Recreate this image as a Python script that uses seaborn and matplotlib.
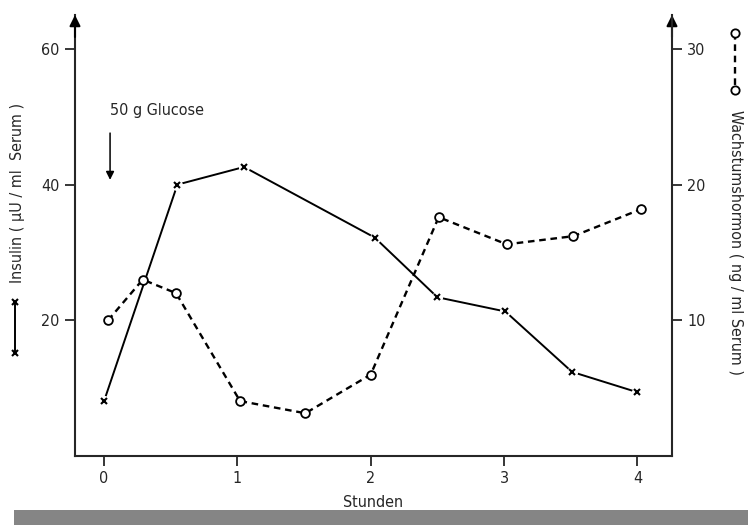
import matplotlib
matplotlib.use("Agg")
import matplotlib.pyplot as plt
import seaborn as sns
import pandas as pd
from matplotlib.lines import Line2D
from matplotlib.patches import Rectangle

# Insulin (µU/ml Serum), crosses, solid line
insulin_t = [0, 0.55, 1.05, 2.03, 2.5, 3.01, 3.51, 4.0]
insulin_val = [8.1, 40.0, 42.6, 32.2, 23.4, 21.3, 12.4, 9.4]

# Wachstumshormon (ng/ml Serum), open circles, dashed line
gh_t = [0.03, 0.29, 0.54, 1.02, 1.51, 2.0, 2.51, 3.02, 3.52, 4.03]
gh_val = [10.0, 13.0, 12.0, 4.05, 3.15, 6.0, 17.6, 15.6, 16.2, 18.2]

x_ticks = [0, 1, 2, 3, 4]
left_ticks = [20, 40, 60]
right_ticks = [10, 20, 30]

insulin = pd.DataFrame({"Stunden": insulin_t, "Insulin": insulin_val})
gh = pd.DataFrame({"Stunden": gh_t, "GH": gh_val})

sns.set_style("ticks")
plt.rcParams["font.family"] = ["DejaVu Sans"]
plt.rcParams["font.stretch"] = "condensed"
plt.rcParams["font.size"] = 11.5

fig = plt.figure(figsize=(7.48, 5.25), dpi=100)
ax = fig.add_axes([75 / 748, 69 / 525, 597 / 748, 441 / 525])
ax2 = ax.twinx()

# insulin curve with little gaps around the crosses
sns.lineplot(data=insulin, x="Stunden", y="Insulin", ax=ax, color="black",
             linewidth=1.4, sort=False, zorder=2)
ax.plot(insulin["Stunden"], insulin["Insulin"], "o", color="white",
        markersize=7, zorder=3)
ax.plot(insulin["Stunden"], insulin["Insulin"], "x", color="black",
        markersize=4.5, markeredgewidth=1.5, zorder=4)

# growth hormone curve
sns.lineplot(data=gh, x="Stunden", y="GH", ax=ax2, color="black",
             linewidth=1.7, sort=False, dashes=False, zorder=2)
ax2.lines[0].set_dashes([2.8, 2.0])
ax2.plot(gh["Stunden"], gh["GH"], "o", markerfacecolor="white",
         markeredgecolor="black", markersize=6.3, markeredgewidth=1.3, zorder=4)

ax.set_xlim(-0.218, 4.26)
ax.set_ylim(0, 65)
ax2.set_ylim(0, 32.5)

ax.set_xticks(x_ticks)
ax.set_yticks(left_ticks)
ax2.set_yticks(right_ticks)

for a in (ax, ax2):
    a.set_xlabel("")
    a.set_ylabel("")
    a.spines["top"].set_visible(False)
    for s in a.spines.values():
        s.set_linewidth(1.5)
ax.spines["right"].set_visible(False)
ax2.spines["left"].set_visible(False)
ax2.spines["bottom"].set_visible(False)

ax.tick_params(axis="both", direction="out", length=7, width=1.3,
               labelsize=11.5, pad=4)
ax2.tick_params(axis="y", direction="out", length=7, width=1.3,
                labelsize=11.5, pad=4)

# arrow heads on the two vertical axes
for xf in (0, 1):
    ax.annotate("", xy=(xf, 1.0), xytext=(xf, 0.95), xycoords="axes fraction",
                arrowprops=dict(arrowstyle="-|>", color="black", lw=1.5,
                                mutation_scale=16, shrinkA=0, shrinkB=0))

ax.set_xlabel("Stunden", fontsize=11.5, labelpad=6)

# Glucose marker
ax.text(0.045, 50.9, "50 g Glucose", fontsize=11.5, va="center", ha="left")
ax.annotate("", xy=(0.045, 40.7), xytext=(0.045, 47.6),
            arrowprops=dict(arrowstyle="-|>", color="black", lw=1.1,
                            mutation_scale=12, shrinkA=0, shrinkB=0))

# left axis label with symbol
fig.add_artist(Line2D([15 / 748, 15 / 748], [1 - 353 / 525, 1 - 302 / 525],
                      transform=fig.transFigure, color="black", lw=1.4,
                      marker="x", markersize=4.5, markeredgewidth=1.5))
fig.text(18 / 748, 1 - 193 / 525, "Insulin ( µU / ml  Serum )", rotation=90,
         ha="center", va="center", fontsize=11.5)

# right axis label with symbol
fig.add_artist(Line2D([735 / 748, 735 / 748], [1 - 33 / 525, 1 - 90 / 525],
                      transform=fig.transFigure, color="black", lw=1.7,
                      dashes=[2.8, 2.0], marker="o", markersize=6,
                      markerfacecolor="white", markeredgewidth=1.3))
fig.text(735 / 748, 1 - 243 / 525, "Wachstumshormon ( ng / ml Serum )",
         rotation=-90, ha="center", va="center", fontsize=11.5)

# grey scan strip at the bottom
fig.add_artist(Rectangle((14 / 748, 0), 1, 15 / 525, transform=fig.transFigure,
                         color="#858585", lw=0))

fig.savefig("out.png", dpi=100)
